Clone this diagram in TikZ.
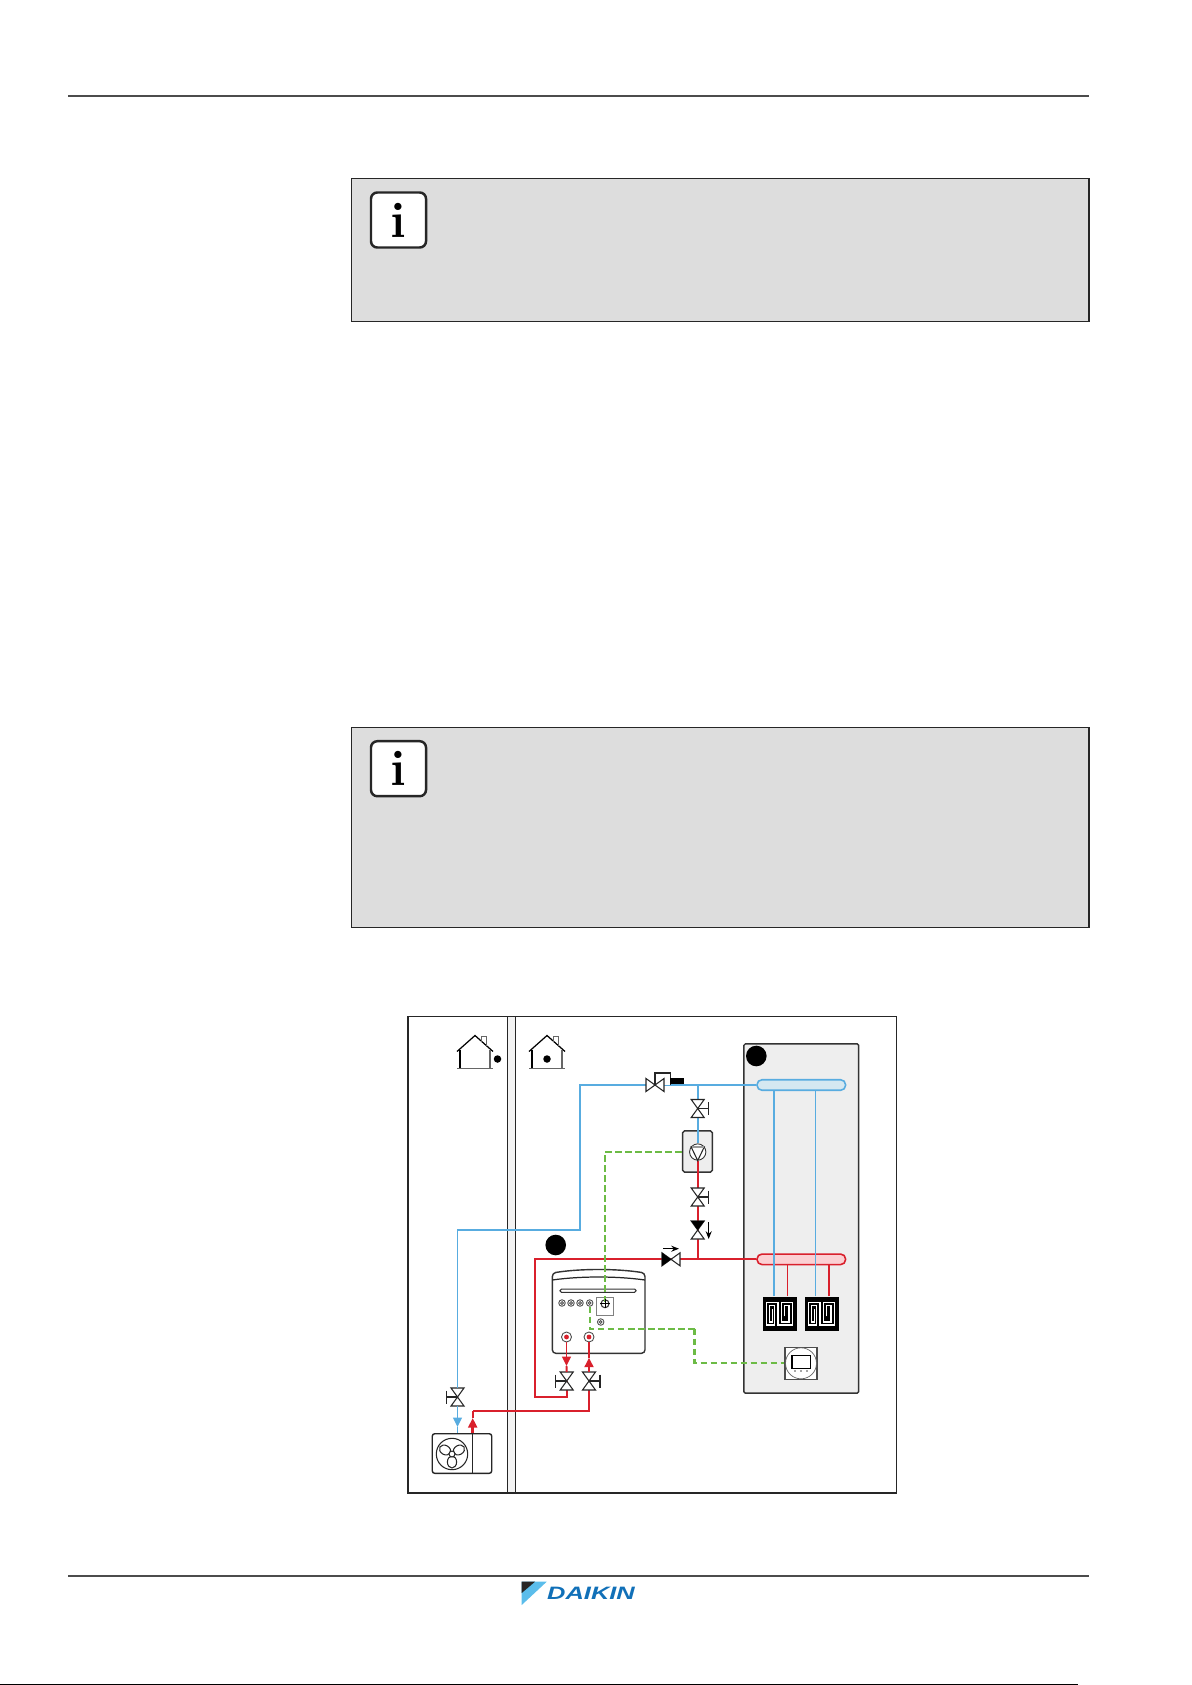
\documentclass[tikz,border=0pt]{standalone}
\usepackage{fontspec}
\newfontfamily\logofont{Liberation Sans}
\usetikzlibrary{arrows.meta}

\definecolor{coldblue}{HTML}{58ACE0}
\definecolor{hotred}{HTML}{D9202C}
\definecolor{signalgreen}{HTML}{6CBB45}
\definecolor{coldfill}{HTML}{D5E8F1}
\definecolor{hotfill}{HTML}{FBD0D3}
\definecolor{panelgray}{HTML}{EEEEEE}
\definecolor{notegray}{HTML}{DDDDDD}
\definecolor{logoblue}{HTML}{1170B8}
\definecolor{logosky}{HTML}{5BBDEB}

\tikzset{
  line/.style={line width=0.3pt, draw=black!85},
  coldpipe/.style={line width=0.55pt, draw=coldblue},
  hotpipe/.style={line width=0.55pt, draw=hotred},
  signal/.style={line width=0.75pt, draw=signalgreen, dash pattern=on 1.9pt off 0.95pt},
  flowtip/.style={-{Triangle[length=2.7pt, width=2.5pt]}},
  smalltip/.style={-{Stealth[length=2.2pt, width=1.7pt]}, line width=0.35pt, black},
  note/.style={rectangle, draw=black!85, fill=notegray, line width=0.35pt, anchor=north west, inner sep=0},
  icon/.style={rectangle, draw=black!85, fill=white, rounded corners=1.8pt, line width=0.7pt, minimum size=0.55cm, inner sep=0, font=\fontsize{14.3}{14}\selectfont\bfseries},
  dot/.style={circle, fill=black, inner sep=0},
  collector/.style={rectangle, line width=0.45pt, rounded corners=1.4pt, minimum width=0.885cm, minimum height=0.105cm, inner sep=0},
  port/.style={circle, draw=black!70, line width=0.25pt, fill=white, minimum size=0.065cm, inner sep=0},
  valveh/.pic={
    \draw[line, fill=white] (-9,-6.5) -- (9,6.5) -- (9,-6.5) -- (-9,6.5) -- cycle;
  },
  valvev/.pic={
    \draw[line, fill=white] (-6.5,-9) -- (6.5,9) -- (-6.5,9) -- (6.5,-9) -- cycle;
  },
  house/.pic={
    \draw[line width=0.35pt, black] (-18,16) -- (0,0) -- (18,16);
    \draw[line width=0.3pt, black] (-15,14) -- (-15,33);
    \draw[line width=0.35pt, black!60] (15,14) -- (15,33) (-18,33) -- (18,33);
    \draw[line width=0.35pt, black!60] (6.5,6) -- (6.5,1) -- (11.5,1) -- (11.5,10);
  }
}

\begin{document}
\begin{tikzpicture}[x=0.01cm, y=-0.01cm]
  \useasboundingbox (0,0) rectangle (1192,1685);

  \coordinate (ruleTL) at (68,96);
  \coordinate (ruleTR) at (1089,96);
  \coordinate (ruleBL) at (68,1576);
  \coordinate (ruleBR) at (1089,1576);
  \draw[line width=0.35pt, black!70] (ruleTL) -- (ruleTR);
  \draw[line width=0.35pt, black!70] (ruleBL) -- (ruleBR);
  \fill[black] (0,1684) rectangle (1078,1685);

  \node[note, minimum width=7.37cm, minimum height=1.43cm] (noteA) at (351,178) {};
  \node[note, minimum width=7.37cm, minimum height=2.005cm] (noteB) at (351,726.5) {};
  \node[icon] (iconA) at (398.5,220) {i};
  \node[icon] (iconB) at (398.5,768.7) {i};

  \draw[line] (408,1016.5) rectangle (896.5,1493);
  \draw[line, fill=panelgray!70] (507.7,1016.5) rectangle (515.3,1493);

  \pic at (475,1035.5) {house};
  \pic at (547,1035.5) {house};
  \node[dot, minimum size=0.075cm] (out) at (497.5,1059) {};
  \node[dot, minimum size=0.075cm] (ins) at (547,1059) {};

  \node[rectangle, draw=black!80, fill=panelgray, line width=0.4pt, rounded corners=0.4pt, minimum width=1.147cm, minimum height=3.49cm, inner sep=0] (panel) at (801.3,1218.5) {};
  \node[dot, minimum size=0.206cm] (markA) at (756.3,1056) {};
  \node[dot, minimum size=0.206cm] (markB) at (555.7,1245) {};

  \node[collector, draw=coldblue, fill=coldfill] (cold) at (801.3,1085) {};
  \node[collector, draw=hotred, fill=hotfill] (hot) at (801.3,1259.3) {};
  \node[rectangle, fill=black, minimum size=0.338cm, inner sep=0] (loopA) at (780,1314) {};
  \node[rectangle, fill=black, minimum size=0.338cm, inner sep=0] (loopB) at (822,1314) {};

  \foreach \loopn in {loopA, loopB}
    \draw[shift={(\loopn.north west)}, white, line width=0.35pt]
      (22.3,20) -- (22.3,9) -- (26.7,9) -- (26.7,25.7) -- (19,25.7) -- (19,6.3) -- (30,6.3) -- (30,28.7)
      -- (15.7,28.7) -- (15.7,6.3) -- (4,6.3) -- (4,28.7) -- (12.3,28.7) -- (12.3,9) -- (7.3,9) -- (7.3,25.7) -- (9.8,25.7) -- (9.8,13);

  \foreach \loopn/\bshift/\bw/\rshift/\rw in {loopA/-0.06cm/0.6pt/0.077cm/0.3pt, loopB/-0.065cm/0.3pt/0.07cm/0.65pt} {
    \draw[draw=coldblue, line width=\bw] ([xshift=\bshift]\loopn.north) -- ([xshift=\bshift]\loopn.north |- cold.south);
    \draw[draw=hotred, line width=\rw] ([xshift=\rshift]\loopn.north) -- ([xshift=\rshift]\loopn.north |- hot.south);
  }

  \coordinate (ctop) at (580,1085);
  \coordinate (cmid) at (580,1230.3);
  \coordinate (cleft) at (457.5,1230.3);
  \coordinate (vzone) at (655,1085);
  \coordinate (tcold) at (697.7,1085);
  \coordinate (vcoldA) at (697.7,1108.5);
  \coordinate (vhotA) at (697.7,1197);
  \coordinate (vhotB) at (697.7,1230);
  \coordinate (thot) at (697.7,1259.3);
  \coordinate (vbyp) at (671,1259.3);
  \coordinate (hleft) at (535,1259.3);
  \coordinate (hlow) at (535,1396.7);
  \coordinate (vret) at (566.7,1381);
  \coordinate (hret) at (566.7,1396.7);
  \coordinate (vsup) at (589,1381);
  \coordinate (hsup) at (589,1410.7);
  \coordinate (hout) at (472.7,1410.7);
  \coordinate (vout) at (457.5,1397);

  \node[rectangle, draw=black!80, fill=panelgray, line width=0.4pt, rounded corners=0.5pt, minimum width=0.296cm, minimum height=0.413cm, inner sep=0] (pumpbox) at (697.5,1151.5) {};
  \node[circle, draw=black!80, fill=white, line width=0.25pt, minimum size=0.163cm, inner sep=0] (pump) at (697.7,1152) {};

  \draw[coldpipe] (cleft) -- (cmid) -- (ctop) -- (vzone) -- (cold.west);
  \draw[coldpipe] (tcold) -- (pump.north);
  \draw[hotpipe] (pump.south) -- (thot);
  \draw[hotpipe] (hot.west) -- (hleft) -- (hlow) -- (hret) -- (vret);
  \draw[hotpipe] (vsup) -- (hsup) -- (hout);
  \draw[line] (691.2,1147) -- (704.2,1147) -- (pump.south) -- cycle;
  \draw[line width=0.6pt, black!40] (691.5,1147) -- (704,1147);

  \draw[line, fill=white] (655,1085) -- (655,1073) -- (670.7,1073) -- (670.7,1085);
  \node[rectangle, fill=black, minimum width=0.14cm, minimum height=0.06cm, inner sep=0] (motor) at (677,1081) {};
  \pic at (vzone) {valveh};
  \foreach \vlv in {vcoldA, vhotA, vhotB, vret, vsup, vout}
    \pic at (\vlv) {valvev};
  \fill[black] (691.2,1221) -- (704.2,1221) -- (697.7,1230) -- cycle;
  \pic at (vbyp) {valveh};
  \fill[black] (662,1252.8) -- (662,1265.8) -- (671,1259.3) -- cycle;

  \foreach \vlv/\dir in {vcoldA/1, vhotA/1, vsup/1, vret/-1, vout/-1} {
    \draw[line] (\vlv) -- ++(\dir*11,0);
    \draw[line] (\vlv) ++(\dir*11,-6.5) -- ++(0,13);
  }
  \draw[smalltip] (708.7,1222) -- (708.7,1239);
  \draw[smalltip] (663,1248.7) -- (679,1248.7);

  % indoor unit
  \draw[line width=0.4pt, black!80, fill=white, rounded corners=1pt] (552.3,1273) .. controls (580,1268.5) and (617,1268.5) .. (645,1273) -- (645,1353.3) -- (552.3,1353.3) -- cycle;
  \draw[line, line width=0.35pt] (552.3,1280) .. controls (580,1276) and (617,1276) .. (645,1280);
  \node[rectangle, draw=black!80, line width=0.3pt, rounded corners=0.4pt, minimum width=0.76cm, minimum height=0.032cm, inner sep=0] (slot) at (598,1290.7) {};
  \node[rectangle, draw=black!50, line width=0.3pt, fill=white, minimum size=0.174cm, inner sep=0] (link) at (605,1306.5) {};
  \foreach \portn/\px/\py in {tA/562/1303, tB/571/1303, tC/580/1303, tD/589.7/1303, tE/600.7/1322} {
    \node[port] (\portn) at (\px,\py) {};
    \draw[line width=0.25pt, black!70] (\px,\py) circle (1.4);
  }
  \node[circle, draw=black!80, fill=white, line width=0.3pt, minimum size=0.08cm, inner sep=0] (linkc) at (605,1303.7) {};
  \node[port, minimum size=0.1cm] (pret) at (566.5,1337) {};
  \node[port, minimum size=0.1cm] (psup) at (589,1337) {};
  \fill[hotred] (pret) circle (2.4) (psup) circle (2.4);

  \coordinate (aret) at (566.5,1366);
  \coordinate (asup) at (589,1357.7);
  \coordinate (aout) at (457.5,1427);
  \coordinate (bout) at (472.7,1418);
  \draw[hotpipe, flowtip] (pret) -- (aret);
  \draw[hotpipe] (aret) -- ([yshift=0.09cm]vret);
  \draw[hotpipe, line width=0.8pt, flowtip] ([yshift=0.09cm]vsup) -- (asup);
  \draw[hotpipe, line width=0.8pt] (asup) -- (psup);
  \draw[coldpipe] (cmid) -- (cleft) -- ([yshift=0.09cm]vout);
  \draw[coldpipe, line width=0.45pt, flowtip] ([yshift=-0.09cm]vout) -- (aout);

  % outdoor unit
  \node[rectangle, draw=black!85, fill=white, line width=0.4pt, rounded corners=0.7pt, minimum width=0.594cm, minimum height=0.396cm, inner sep=0] (unit) at (462,1453.5) {};
  \draw[coldpipe, line width=0.45pt] (aout) -- (unit.north -| aout);
  \draw[hotpipe] (hout) -- (bout);
  \draw[hotpipe, flowtip, line width=0.7pt] (unit.north -| bout) -- (bout);
  \draw[line] (unit.north -| bout) -- (unit.south -| bout);
  \coordinate (fan) at (452,1454);
  \draw[line] (fan) circle (15.7);
  \foreach \ang in {30,150,270}
    \draw[line, shift={(fan)}, rotate=\ang] (8,0) ellipse [x radius=6, y radius=4.6];
  \draw[line, fill=white] (fan) circle (3);

  % thermostat
  \node[rectangle, draw=black!70, fill=white, line width=0.4pt, minimum size=0.32cm, inner sep=0] (stat) at (801,1363.3) {};
  \node[circle, draw=black!60, line width=0.2pt, minimum size=0.31cm, inner sep=0] (statc) at (801,1363.3) {};
  \node[rectangle, draw=black, line width=0.35pt, fill=white, minimum width=0.185cm, minimum height=0.13cm, inner sep=0] (screen) at (801.3,1362) {};
  \foreach \px in {795,801,807}
    \fill[black!70] (\px,1371) circle (0.8);

  \coordinate (sigA) at (605,1152);
  \coordinate (sigB) at (589.7,1328.7);
  \coordinate (sigC) at (694.7,1328.7);
  \coordinate (sigD) at (694.7,1363);
  \draw[signal] (pumpbox.west |- pump) -- (sigA) -- (linkc.center);
  \draw[signal, line width=0.5pt] (tD) -- (sigB) -- (sigC);
  \draw[signal] (sigC) -- (sigD) -- (stat.west |- sigD);
  \draw[line width=0.25pt, black] (linkc.west) -- (linkc.east) (linkc.north) -- (linkc.south);

  % logo
  \fill[logosky] (521.7,1581.7) -- (546.7,1581.7) -- (521.7,1605) -- cycle;
  \fill[black!85] (521.7,1581.7) -- (535,1581.7) -- (521.7,1593) -- cycle;
  \node[transform shape, xscale=1.42, inner sep=0, text=logoblue, font=\logofont\fontsize{5.1}{5.5}\selectfont\bfseries\itshape] (logo) at (591,1593.2) {DAIKIN};
\end{tikzpicture}
\end{document}
